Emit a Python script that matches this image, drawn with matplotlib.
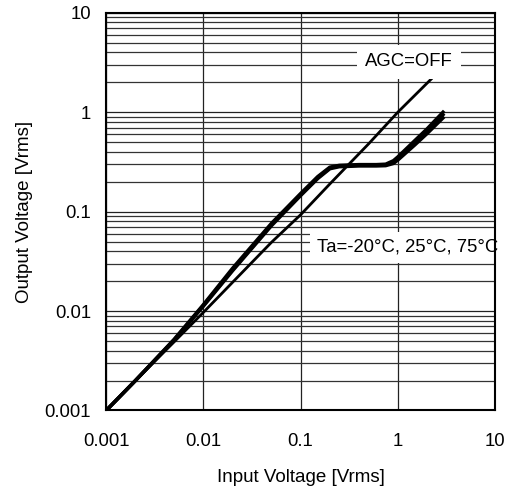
import matplotlib
matplotlib.use("Agg")
import matplotlib.pyplot as plt
from matplotlib.ticker import LogLocator, FixedLocator, NullFormatter

plt.rcParams['font.family'] = ['Liberation Sans', 'DejaVu Sans']

# AGC=OFF curve
off_x = [0.001, 0.002, 0.005, 0.01, 0.02, 0.05, 0.1, 0.2, 0.5, 1.0, 2.2]
off_y = [0.001, 0.002, 0.0049, 0.0097, 0.0195, 0.049, 0.093, 0.19, 0.48, 1.0, 2.15]

# AGC on, Ta = -20, 25, 75 degC
agc_x = [0.001, 0.002, 0.005, 0.01, 0.02, 0.05, 0.1, 0.15, 0.2, 0.25, 0.4,
         0.6, 0.75, 0.9, 1.0, 1.5, 2.0, 3.0]
agc_m20 = [0.001, 0.002, 0.0052, 0.0116, 0.027, 0.076, 0.152, 0.225, 0.28,
           0.292, 0.297, 0.297, 0.3, 0.325, 0.355, 0.52, 0.68, 1.03]
agc_25 = [0.001, 0.002, 0.0051, 0.0114, 0.026, 0.074, 0.148, 0.22, 0.275,
          0.288, 0.293, 0.293, 0.295, 0.315, 0.34, 0.5, 0.65, 0.97]
agc_75 = [0.001, 0.002, 0.0051, 0.0112, 0.0255, 0.072, 0.145, 0.215, 0.27,
          0.283, 0.288, 0.288, 0.29, 0.305, 0.33, 0.47, 0.61, 0.9]

fig = plt.figure(figsize=(5.13, 4.91), dpi=100)
ax = fig.add_axes([0.207, 0.164, 0.758, 0.81])

ax.set_xscale('log')
ax.set_yscale('log')
ax.set_xlim(0.001, 10)
ax.set_ylim(0.001, 10)

# grid: decades on x, decades + 2..9 on y
ax.xaxis.set_major_locator(FixedLocator([0.001, 0.01, 0.1, 1, 10]))
ax.xaxis.set_minor_locator(FixedLocator([]))
ax.yaxis.set_major_locator(FixedLocator([0.001, 0.01, 0.1, 1, 10]))
ax.yaxis.set_minor_locator(LogLocator(base=10, subs=range(2, 10)))
ax.yaxis.set_minor_formatter(NullFormatter())
ax.set_xticklabels(['0.001', '0.01', '0.1', '1', '10'])
ax.set_yticklabels(['0.001', '0.01', '0.1', '1', '10'])
ax.grid(True, which='major', color='#222222', lw=0.9)
ax.grid(True, which='minor', axis='y', color='#333333', lw=0.9)
ax.tick_params(which='both', length=0, labelsize=13.3)
ax.tick_params(axis='y', pad=11)
ax.tick_params(axis='x', pad=16)
ax.set_axisbelow(True)

for s in ax.spines.values():
    s.set_linewidth(1.5)
    s.set_zorder(5)

ax.plot(off_x, off_y, color='black', lw=2.0, zorder=3)
for ys in (agc_m20, agc_25, agc_75):
    ax.plot(agc_x, ys, color='black', lw=2.5, zorder=3, solid_capstyle='butt')

ax.text(1.3, 3.2, 'AGC=OFF', fontsize=13.3, ha='center', va='center',
        bbox=dict(facecolor='white', edgecolor='none', pad=6), zorder=4)
ax.text(0.148, 0.044, 'Ta=-20°C, 25°C, 75°C', fontsize=13.3, ha='left',
        va='center', bbox=dict(facecolor='white', edgecolor='none', pad=5),
        zorder=4, clip_on=False)

ax.set_xlabel('Input Voltage [Vrms]', fontsize=13.5, labelpad=14)
ax.set_ylabel('Output Voltage [Vrms]', fontsize=13.5, labelpad=8)

fig.savefig('out.png', dpi=100)
